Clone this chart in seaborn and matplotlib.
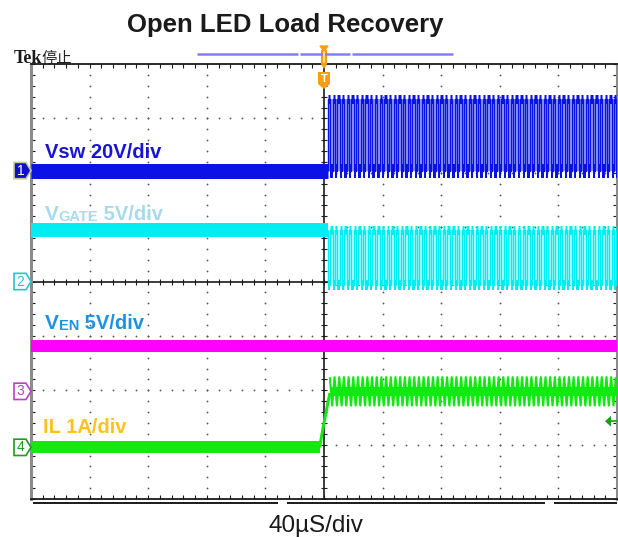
import numpy as np
import pandas as pd
import seaborn as sns
import matplotlib.pyplot as plt
import matplotlib.transforms as mtransforms
from matplotlib.patches import Polygon

# scope screen: time in us (40us/div, trigger at 0), levels in divisions
t_left, t_right = -200, 200
sw_start = 2.7        # first switching edge after trigger (us)
sw_period = 3.2       # switching period (us)
sw_duty = 0.5
n_pulses = 62

channels = ['Vsw', 'VGATE', 'VEN', 'IL']
ch_offset = [2.04, 0.0, -2.02, -3.05]          # marker positions (div)
level_before = [0.0, 0.94, 0.83, 0.0]          # level before trigger (div)
level_low_after = [0.0, -0.07, 0.83, 0.77]
level_high_after = [1.32, 0.94, 0.83, 1.29]
il_rise_t = [-3.0, 0.0, 4.0]
il_rise_v = [0.0, 0.45, 1.0]
il_trig_level = 0.48

ch_colors = ['#0a12e6', '#00eef2', '#ff00ff', '#12e812']
fill_colors = ['#a0a8f6', '#c6fafa']
band_px = [15, 14, 12, 12]
label_colors = ['#1616d2', '#a6dcea', '#1e92e2', '#ffc21a']

sns.set_theme(style='white')
plt.rcParams['font.family'] = ['Liberation Sans', 'DejaVu Sans']
label_font = ['Liberation Sans', 'DejaVu Sans']

fig = plt.figure(figsize=(6.18, 5.37), dpi=100)
ax = fig.add_axes([31 / 618, 1 - 499 / 537, 586 / 618, 435 / 537])
px = 0.72  # points per pixel


def draw(df, color, lw, z=3):
    sns.lineplot(data=df, x='t', y='v', units='seg', estimator=None, sort=False,
                 color=color, linewidth=lw, solid_capstyle='butt', ax=ax,
                 legend=False, zorder=z)


rises = sw_start + sw_period * np.arange(n_pulses)
rises = rises[rises < t_right]
falls = np.minimum(rises + sw_duty * sw_period, t_right)
next_rises = np.append(rises[1:], t_right)


def plateaus(starts, ends, level):
    return pd.DataFrame({'t': np.column_stack([starts, ends]).ravel(),
                         'v': level,
                         'seg': np.repeat(np.arange(len(starts)), 2)})


def square(lo, hi, first, second):
    t = np.column_stack([rises, rises, falls, falls]).ravel()
    v = np.tile([first, second, second, first], len(rises))
    v = np.where(v == 1, hi, lo)
    return pd.DataFrame({'t': t, 'v': v, 'seg': 0})


# channel 1 - Vsw (high while switch off)
i = 0
lo, hi = ch_offset[i] + level_low_after[i], ch_offset[i] + level_high_after[i]
ax.fill_between([sw_start, t_right], lo, hi, color=fill_colors[0], lw=0, zorder=2)
draw(pd.DataFrame({'t': [t_left, sw_start], 'v': ch_offset[i] + level_before[i], 'seg': 0}),
     ch_colors[i], band_px[i] * px)
draw(square(lo, hi, 0, 1), ch_colors[i], 1.0)
draw(plateaus(rises, falls, hi), ch_colors[i], 9 * px)
draw(plateaus(falls, next_rises, lo), ch_colors[i], 14 * px)

# channel 2 - VGATE (complementary)
i = 1
lo, hi = ch_offset[i] + level_low_after[i], ch_offset[i] + level_high_after[i]
ax.fill_between([sw_start, t_right], lo, hi, color=fill_colors[1], lw=0, zorder=2)
draw(pd.DataFrame({'t': [t_left, sw_start], 'v': ch_offset[i] + level_before[i], 'seg': 0}),
     ch_colors[i], band_px[i] * px)
draw(square(lo, hi, 1, 0), ch_colors[i], 1.0)
draw(plateaus(falls, next_rises, hi), ch_colors[i], 9 * px)
draw(plateaus(rises, falls, lo), ch_colors[i], 10 * px)

# channel 3 - VEN
i = 2
draw(pd.DataFrame({'t': [t_left, t_right], 'v': ch_offset[i] + level_before[i], 'seg': 0}),
     ch_colors[i], band_px[i] * px)

# channel 4 - IL
i = 3
lo, hi = ch_offset[i] + level_low_after[i], ch_offset[i] + level_high_after[i]
draw(pd.DataFrame({'t': [t_left, il_rise_t[0]], 'v': ch_offset[i] + level_before[i], 'seg': 0}),
     ch_colors[i], band_px[i] * px)
draw(pd.DataFrame({'t': il_rise_t, 'v': np.array(il_rise_v) + ch_offset[i], 'seg': 0}),
     ch_colors[i], 3 * px)
half = il_rise_t[-1] + 0.5 * sw_period * np.arange(int((t_right - il_rise_t[-1]) / (0.5 * sw_period)) + 1)
zig = np.where(np.arange(len(half)) % 2 == 0, hi, lo)
draw(pd.DataFrame({'t': half, 'v': zig, 'seg': 0}), ch_colors[i], 2.2 * px)
draw(pd.DataFrame({'t': [il_rise_t[-1], t_right], 'v': (lo + hi) / 2, 'seg': 0}),
     ch_colors[i], 9 * px)

# graticule
ax.set_xlim(t_left, t_right)
ax.set_ylim(-4, 4)
ax.set_xlabel('')
ax.set_ylabel('')
ax.set_xticks(np.arange(t_left, t_right + 1, 8))
ax.set_yticks(np.round(np.arange(-4, 4.01, 0.2), 2))
ax.tick_params(direction='in', length=3, width=0.8, color='k', top=True, right=True,
               bottom=True, left=True, labelbottom=False, labelleft=False)
for s in ['top', 'bottom']:
    ax.spines[s].set_color('k')
    ax.spines[s].set_linewidth(1.3)
for s in ['left', 'right']:
    ax.spines[s].set_color('#8c8c8c')
    ax.spines[s].set_linewidth(2.2)

dot_t = np.arange(t_left, t_right + 1, 8)
dot_v = np.round(np.arange(-4, 4.01, 0.2), 2)
for gx in range(-160, 161, 40):
    if gx != 0:
        ax.plot(np.full(len(dot_v), gx), dot_v, 'o', ms=1.3, color='#555555', mec='none', zorder=1)
for gy in range(-3, 4):
    if gy != 0:
        ax.plot(dot_t, np.full(len(dot_t), gy), 'o', ms=1.3, color='#555555', mec='none', zorder=1)
ax.axvline(0, color='k', lw=1.2, zorder=1.5)
ax.axhline(0, color='k', lw=1.2, zorder=1.5)
ax.plot(dot_t, np.zeros(len(dot_t)), '|', ms=5, mew=0.8, color='k', zorder=1.5)
ax.plot(np.zeros(len(dot_v)), dot_v, '_', ms=5, mew=0.8, color='k', zorder=1.5)


# channel labels
def label(x, y, parts, color):
    t = ax.text(x, y, parts[0][0], fontsize=parts[0][1], color=color, weight='bold',
                family=label_font, va='baseline', zorder=6)
    for s, fs in parts[1:]:
        t = ax.annotate(s, xy=(1, 0), xycoords=t, fontsize=fs, color=color, weight='bold',
                        family=label_font, va='bottom', ha='left', zorder=6)


label(-190.5, 2.28, [('Vsw 20V/div', 14.5)], label_colors[0])
label(-190.5, 1.14, [('V', 15), ('GATE', 10.5), (' 5V/div', 14.5)], label_colors[1])
label(-190.5, -0.88, [('V', 15), ('EN', 10.5), (' 5V/div', 14.5)], label_colors[2])
label(-191.5, -2.78, [('IL 1A/div', 14.5)], label_colors[3])

# overlay in pixel coordinates for screen furniture
ov = fig.add_axes([0, 0, 1, 1], zorder=5)
ov.set_xlim(0, 618)
ov.set_ylim(537, 0)
ov.axis('off')
mix = mtransforms.blended_transform_factory(ov.transData, ax.transData)

edge_cols = ['#c8c8a0', '#28c4cc', '#c040c0', '#209a20']
h = 0.15
for i, off in enumerate(ch_offset):
    face = '#1010c8' if i == 0 else 'white'
    txt = 'white' if i == 0 else edge_cols[i]
    ov.add_patch(Polygon([(14, off - h), (26, off - h), (31, off), (26, off + h), (14, off + h)],
                         closed=True, transform=mix, facecolor=face, edgecolor=edge_cols[i],
                         lw=1.2, zorder=7, clip_on=False))
    ov.text(20.5, off, str(i + 1), transform=mix, ha='center', va='center', fontsize=10,
            color=txt, zorder=8)

# IL trigger level arrow
yl = ch_offset[3] + il_trig_level
ov.add_patch(Polygon([(605, yl), (611, yl + 0.1), (611, yl - 0.1)], closed=True, transform=mix,
                     facecolor='#18a018', edgecolor='none', zorder=7))
ov.plot([611, 617], [yl, yl], transform=mix, color='#18a018', lw=1.2, zorder=7)

# record bar and trigger markers
bar = '#8080f2'
for x0, x1 in [(197, 298), (300, 350), (352, 453)]:
    ov.plot([x0, x1], [54, 54], color=bar, lw=1.8, solid_capstyle='butt')
orange = '#f5a010'
ov.add_patch(Polygon([(320, 46), (328, 46), (324, 51)], closed=True, color=orange))
ov.add_patch(Polygon([(321, 50), (327, 50), (327, 64), (324, 69), (321, 64)], closed=True,
                     facecolor=orange, edgecolor='none'))
ov.plot([324, 324], [52, 62], color='#ffe6b0', lw=1.2)
ov.add_patch(Polygon([(318, 72), (330, 72), (330, 84), (324, 89), (318, 84)], closed=True,
                     facecolor=orange, edgecolor='none'))
ov.text(324, 79, 'T', ha='center', va='center', fontsize=8, color='white', weight='bold')

# double bottom edge
for x0, x1 in [(33, 278), (287, 545), (554, 617)]:
    ov.plot([x0, x1], [502.5, 502.5], color='k', lw=1.4, solid_capstyle='butt')

fig.text(285 / 618, 1 - 32 / 537, 'Open LED Load Recovery', ha='center', va='baseline',
         fontsize=18.5, weight='bold', color='k')
fig.text(316 / 618, 1 - 532 / 537, '40µS/div', ha='center', va='baseline',
         fontsize=17.5, color='k')
fig.text(14 / 618, 1 - 63 / 537, 'Tek', ha='left', va='baseline', fontsize=13,
         family=['Liberation Serif'], weight='bold', color='k')
fig.text(42 / 618, 1 - 63 / 537, '停止', ha='left', va='baseline', fontsize=11,
         family=['Noto Sans CJK SC', 'DejaVu Sans'], color='#222222')

fig.savefig('out.png', dpi=100)
